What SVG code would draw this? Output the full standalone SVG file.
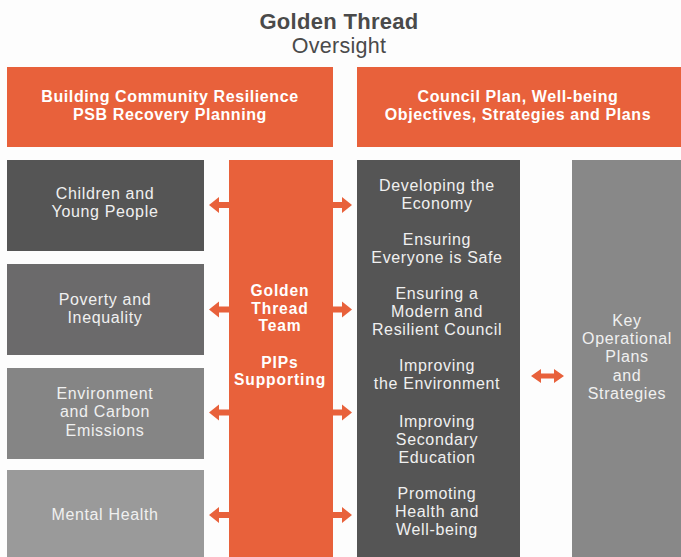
<svg xmlns="http://www.w3.org/2000/svg" width="681" height="557" viewBox="0 0 681 557">
  <style>
    .title { font-family: "Liberation Sans", Arial, sans-serif; fill: #4a4a4a; text-anchor: middle; letter-spacing: 0.3px; }
    .hdr { font-family: "Liberation Sans", Arial, sans-serif; font-weight: bold; font-size: 16px; fill: #ffffff; text-anchor: middle; letter-spacing: 0.6px; }
    .lbl { font-family: "Liberation Sans", Arial, sans-serif; font-size: 16px; fill: #f0f0f0; text-anchor: middle; letter-spacing: 0.65px; }
    .bold { font-weight: bold; font-size: 15.6px; fill: #ffffff; letter-spacing: 0.9px; }
    .orange { fill: #e8613b; }
    .arrow { fill: #e8613b; }
  </style>
  <rect x="0" y="0" width="681" height="557" fill="#fdfdfd"/>

  <!-- title -->
  <g id="title">
    <text class="title" x="339" y="29" font-size="22" font-weight="bold">Golden Thread</text>
    <text class="title" x="339" y="52.5" font-size="21.5" letter-spacing="0.8">Oversight</text>
  </g>

  <!-- header bars -->
  <g id="hdr-left">
    <rect class="orange" x="7" y="67" width="326" height="80"/>
    <text class="hdr" x="170" y="102">Building Community Resilience<tspan x="170" dy="18">PSB Recovery Planning</tspan></text>
  </g>
  <g id="hdr-right">
    <rect class="orange" x="357" y="67" width="324" height="80"/>
    <text class="hdr" x="518" y="102">Council Plan, Well-being<tspan x="518" dy="18">Objectives, Strategies and Plans</tspan></text>
  </g>

  <!-- left theme boxes -->
  <g id="children">
    <rect x="7" y="160" width="197" height="91" fill="#555555"/>
    <text class="lbl" x="105" y="199">Children and<tspan x="105" dy="18">Young People</tspan></text>
  </g>
  <g id="poverty">
    <rect x="7" y="264" width="197" height="91" fill="#6b6a6b"/>
    <text class="lbl" x="105" y="305">Poverty and<tspan x="105" dy="18">Inequality</tspan></text>
  </g>
  <g id="environment">
    <rect x="7" y="368" width="197" height="91" fill="#858585"/>
    <text class="lbl" x="105" y="399">Environment<tspan x="105" dy="18.2">and Carbon</tspan><tspan x="105" dy="18.3">Emissions</tspan></text>
  </g>
  <g id="mental-health">
    <rect x="7" y="470" width="197" height="87" fill="#9a9a9a"/>
    <text class="lbl" x="105" y="519.5">Mental Health</text>
  </g>

  <!-- golden thread team column -->
  <g id="team">
    <rect class="orange" x="229" y="160" width="104" height="397"/>
    <text class="lbl bold" x="280" y="296">Golden<tspan x="280" dy="17.6">Thread</tspan><tspan x="280" dy="17.6">Team</tspan><tspan x="280" dy="36.4">PIPs</tspan><tspan x="280" dy="17.6">Supporting</tspan></text>
  </g>

  <!-- well-being objectives column -->
  <g id="objectives">
    <rect x="357" y="160" width="163" height="397" fill="#555555"/>
    <text class="lbl" x="437" y="191">Developing the<tspan x="437" dy="18">Economy</tspan></text>
    <text class="lbl" x="437" y="245">Ensuring<tspan x="437" dy="18">Everyone is Safe</tspan></text>
    <text class="lbl" x="437" y="299">Ensuring a<tspan x="437" dy="18">Modern and</tspan><tspan x="437" dy="18">Resilient Council</tspan></text>
    <text class="lbl" x="437" y="371">Improving<tspan x="437" dy="18">the Environment</tspan></text>
    <text class="lbl" x="437" y="426.5">Improving<tspan x="437" dy="18">Secondary</tspan><tspan x="437" dy="18">Education</tspan></text>
    <text class="lbl" x="437" y="498.5">Promoting<tspan x="437" dy="18">Health and</tspan><tspan x="437" dy="18">Well-being</tspan></text>
  </g>

  <!-- operational plans column -->
  <g id="operational">
    <rect x="572" y="160" width="109" height="397" fill="#888888"/>
    <text class="lbl" x="627" y="326">Key<tspan x="627" dy="18">Operational</tspan><tspan x="627" dy="18">Plans</tspan><tspan x="627" dy="19">and</tspan><tspan x="627" dy="18">Strategies</tspan></text>
  </g>

  <!-- connectors -->
  <defs>
    <polygon id="arrow-l" points="0,0 10,-8 10,-3 20,-3 20,3 10,3 10,8"/>
    <polygon id="arrow-r" points="0,-3 9,-3 9,-8 19,0 9,8 9,3 0,3"/>
  </defs>
  <g id="connectors" class="arrow">
    <use href="#arrow-l" x="209" y="205"/>
    <use href="#arrow-r" x="333" y="205"/>
    <use href="#arrow-l" x="209" y="309.5"/>
    <use href="#arrow-r" x="333" y="309.5"/>
    <use href="#arrow-l" x="209" y="412.5"/>
    <use href="#arrow-r" x="333" y="412.5"/>
    <use href="#arrow-l" x="209" y="515"/>
    <use href="#arrow-r" x="333" y="515"/>
    <polygon points="531,376 541,369 541,373.5 554,373.5 554,369 564,376 554,383 554,378.5 541,378.5 541,383"/>
  </g>
</svg>
